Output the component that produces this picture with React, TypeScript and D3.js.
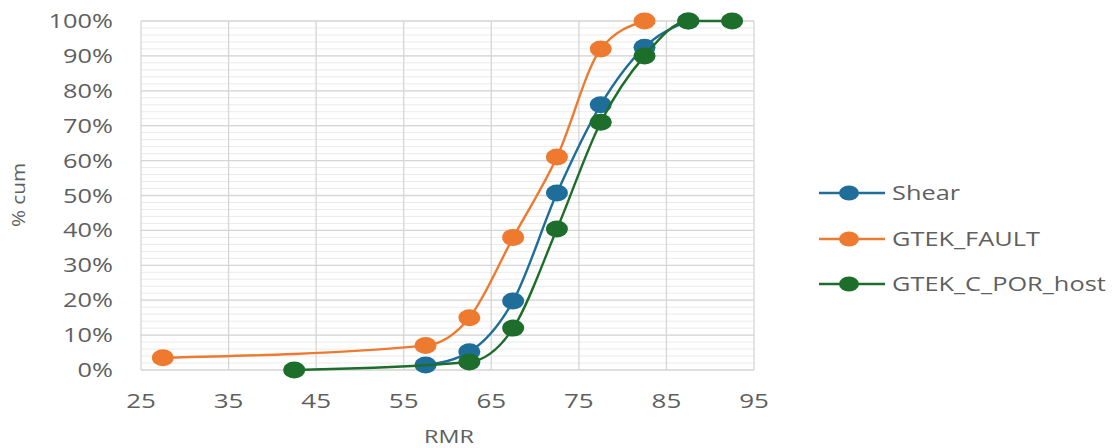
import React from "react";
import * as d3 from "d3";

const shearX = [57.5, 62.5, 67.5, 72.5, 77.5, 82.5, 87.5];
const shearY = [0.014, 0.052, 0.198, 0.507, 0.76, 0.925, 1.0];
const faultX = [27.5, 57.5, 62.5, 67.5, 72.5, 77.5, 82.5];
const faultY = [0.035, 0.07, 0.15, 0.38, 0.61, 0.92, 1.0];
const hostX = [42.5, 62.5, 67.5, 72.5, 77.5, 82.5, 87.5, 92.5];
const hostY = [0.0, 0.023, 0.12, 0.404, 0.71, 0.9, 1.0, 1.0];
const xTicks = [25, 35, 45, 55, 65, 75, 85, 95];
const yTicks = [0, 0.1, 0.2, 0.3, 0.4, 0.5, 0.6, 0.7, 0.8, 0.9, 1.0];
const seriesNames = ["Shear", "GTEK_FAULT", "GTEK_C_POR_host"];
const seriesColors = ["#1F6E9A", "#EE7A30", "#1C6E2A"];

const W = 1118;
const H = 448;
const FONT = "'Open Sans', 'DejaVu Sans', sans-serif";
const TXT = "#5f5f5f";
const SX = 1.3;

export default function App() {
  const x = d3.scaleLinear().domain([25, 95]).range([141, 754]);
  const y = d3.scaleLinear().domain([0, 1]).range([370, 21]);
  const minor = d3.range(0, 1.0001, 0.02);
  const series = [
    { xs: shearX, ys: shearY },
    { xs: faultX, ys: faultY },
    { xs: hostX, ys: hostY },
  ];
  const line = d3
    .line<[number, number]>()
    .x((d) => x(d[0]))
    .y((d) => y(d[1]))
    .curve(d3.curveMonotoneX);
  const pct = d3.format(".0%");

  const legendY = [193, 239, 284];

  return (
    <svg
      width={W}
      height={H}
      style={{ position: "absolute", left: 0, top: 0, background: "#fff" }}
      fontFamily={FONT}
    >
      {minor.map((v, i) => (
        <line
          key={"mi" + i}
          x1={x(25)}
          x2={x(95)}
          y1={y(v)}
          y2={y(v)}
          stroke="#ebebeb"
          strokeWidth={1}
        />
      ))}
      {yTicks.map((v, i) => (
        <line
          key={"my" + i}
          x1={x(25)}
          x2={x(95)}
          y1={y(v)}
          y2={y(v)}
          stroke="#d6d6d6"
          strokeWidth={1.3}
        />
      ))}
      {xTicks.map((v, i) => (
        <line
          key={"mx" + i}
          x1={x(v)}
          x2={x(v)}
          y1={y(0)}
          y2={y(1)}
          stroke="#d6d6d6"
          strokeWidth={1.3}
        />
      ))}
      {yTicks.map((v, i) => (
        <text
          key={"yt" + i}
          transform={`translate(113,${y(v) + 7}) scale(${SX},1)`}
          textAnchor="end"
          fontSize={19.5}
          fill={TXT}
        >
          {pct(v)}
        </text>
      ))}
      {xTicks.map((v, i) => (
        <text
          key={"xt" + i}
          transform={`translate(${x(v)},${408}) scale(${SX},1)`}
          textAnchor="middle"
          fontSize={20}
          fill={TXT}
        >
          {v}
        </text>
      ))}
      <text
        transform={`translate(449,443) scale(${SX},1)`}
        textAnchor="middle"
        fontSize={18}
        fill={TXT}
      >
        RMR
      </text>
      <text
        transform={`translate(25,195) rotate(-90) scale(1.15,1)`}
        textAnchor="middle"
        fontSize={18}
        fill={TXT}
      >
        % cum
      </text>
      {series.map((s, si) => {
        const pts = s.xs.map((xv, i) => [xv, s.ys[i]] as [number, number]);
        return (
          <g key={"s" + si}>
            <path
              d={line(pts) || ""}
              fill="none"
              stroke={seriesColors[si]}
              strokeWidth={2.4}
            />
            {pts.map((p, i) => (
              <ellipse
                key={i}
                cx={x(p[0])}
                cy={y(p[1])}
                rx={11}
                ry={8.5}
                fill={seriesColors[si]}
              />
            ))}
          </g>
        );
      })}
      {seriesNames.map((n, i) => (
        <g key={"l" + i}>
          <line
            x1={819}
            x2={885}
            y1={legendY[i]}
            y2={legendY[i]}
            stroke={seriesColors[i]}
            strokeWidth={2.4}
          />
          <ellipse cx={849} cy={legendY[i]} rx={10} ry={7.5} fill={seriesColors[i]} />
          <text
            transform={`translate(892,${legendY[i] + 7}) scale(${SX},1)`}
            fontSize={19.5}
            fill={TXT}
          >
            {n}
          </text>
        </g>
      ))}
    </svg>
  );
}
